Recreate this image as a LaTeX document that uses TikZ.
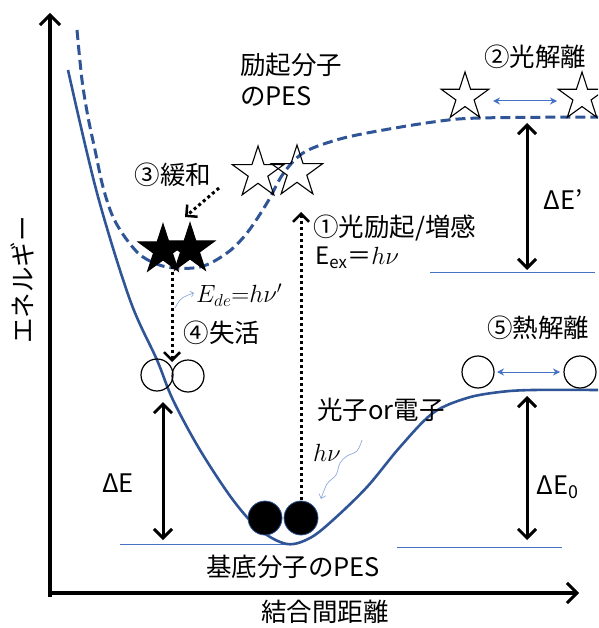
\documentclass[tikz,border=0pt]{standalone}
\usepackage{fontspec}
\setmainfont{Noto Sans CJK JP}
\usetikzlibrary{arrows.meta,shapes.geometric}
\definecolor{pes}{RGB}{47,85,151}
\definecolor{lb}{RGB}{68,114,196}
\definecolor{wv}{RGB}{143,170,220}
\begin{document}
\begin{tikzpicture}[x=1pt,y=-1pt,
  txt/.style={font=\fontsize{25.5}{29}\selectfont, inner sep=0pt},
  mtxt/.style={font=\fontsize{24}{28}\selectfont, inner sep=0pt},
  ostar/.style={star,star points=5,star point ratio=2.618,draw=black,line width=1.1pt,minimum size=54pt,inner sep=0pt},
  bstar/.style={ostar,fill=black,minimum size=52pt},
  wcirc/.style={circle,draw=black,line width=1.2pt,minimum size=32pt,inner sep=0pt},
  bcirc/.style={circle,draw=pes,fill=black,line width=0.8pt,minimum size=34pt,inner sep=0pt},
  axis/.style={line width=3.5pt,-{Straight Barb[length=10pt,width=20pt,line width=3pt]}},
  darr/.style={line width=3pt,{Straight Barb[length=9pt,width=18pt,line width=3pt]}-{Straight Barb[length=9pt,width=18pt,line width=3pt]}},
  dotarr/.style={line width=3pt,dash pattern=on 3pt off 3pt,-{Straight Barb[length=8pt,width=16pt,line width=2.5pt]}},
  barr/.style={lb,line width=1pt,{Stealth[length=7pt,width=7pt]}-{Stealth[length=7pt,width=7pt]}},
  thinb/.style={lb,line width=0.8pt},
  pesline/.style={pes,line width=2.6pt}
]
\useasboundingbox (0,0) rectangle (598,628);
\clip (0,0) rectangle (598,628);
% axes
\coordinate (yb) at (50,597);
\coordinate (yt) at (50,13);
\coordinate (xl) at (48,593);
\coordinate (xr) at (579,593);
\draw[axis] (yb) -- (yt);
\draw[axis] (xl) -- (xr);
% base lines
\coordinate (b1l) at (430,272); \coordinate (b1r) at (595,272);
\coordinate (b2l) at (120,544); \coordinate (b2r) at (285,544);
\coordinate (b3l) at (397,547); \coordinate (b3r) at (562,547);
\draw[thinb] (b1l) -- (b1r);
\draw[thinb] (b2l) -- (b2r);
\draw[thinb] (b3l) -- (b3r);
% ground PES
\draw[pesline] plot[smooth,tension=0.55] coordinates {(68,70) (97,193) (130,300) (157,360) (173,400) (200,450) (233,500) (260,530) (287,544) (310,538) (333,520) (367,487) (400,447) (433,413) (467,398) (500,392) (533,390) (600,390)};
% excited PES
\draw[pesline,line width=3pt,dash pattern=on 10pt off 5pt] plot[smooth,tension=0.55] coordinates {(77,30) (82,80) (88,117) (95,150) (103,187) (113,217) (127,240) (143,257) (167,267) (200,267) (227,253) (247,233) (267,203) (283,174) (303,153) (333,141) (367,133) (433,122) (480,118) (600,117)};
% stars
\node[ostar] (os1) at (258,173) {};
\node[ostar] (os2) at (297,172) {};
\node[ostar,minimum size=50pt] (os3) at (465,97) {};
\node[ostar,minimum size=50pt] (os4) at (582,97) {};
\node[bstar] (bs1) at (163,250) {};
\node[bstar] (bs2) at (190,249) {};
% circles
\node[wcirc] (wc1) at (157,375) {};
\node[wcirc] (wc2) at (188,376) {};
\node[wcirc] (wc3) at (478,372) {};
\node[wcirc] (wc4) at (580,372) {};
\node[bcirc] (bc1) at (265,518) {};
\node[bcirc] (bc2) at (301,518) {};
% double arrows
\coordinate (dEt) at (163,402); \coordinate (dEb) at (163,540);
\coordinate (dEpt) at (527,123); \coordinate (dEpb) at (527,270);
\coordinate (dE0t) at (527,396); \coordinate (dE0b) at (527,540);
\draw[darr] (dEt) -- (dEb);
\draw[darr] (dEpt) -- (dEpb);
\draw[darr] (dE0t) -- (dE0b);
% blue double arrows
\coordinate (ba1l) at (493,101); \coordinate (ba1r) at (557,101);
\coordinate (ba2l) at (497,372); \coordinate (ba2r) at (560,372);
\draw[barr] (ba1l) -- (ba1r);
\draw[barr] (ba2l) -- (ba2r);
% dotted arrows
\coordinate (rs) at (219,188); \coordinate (re) at (185,217);
\draw[dotarr] (rs) -- (re);
\coordinate (ds) at (172,266); \coordinate (de) at (172,362);
\draw[dotarr] (ds) -- (de);
\coordinate (es) at (301,500); \coordinate (ee) at (301,212);
\draw[dotarr] (es) -- (ee);
% wavy arrows
\draw[wv,line width=0.7pt,-{Straight Barb[length=4pt,width=7pt]}] plot[smooth,tension=0.6] coordinates {(362,440) (357,451) (347,456) (340,463) (336,475) (327,484) (321,499)};
\draw[wv,line width=0.7pt,-{Straight Barb[length=3pt,width=6pt]}] plot[smooth,tension=0.6] coordinates {(175,308) (180,300) (186,296) (194,293)};
% texts
\node[txt,rotate=90] (ylab) at (22,280) {エネルギー};
\node[txt] (xlab) at (325,612) {結合間距離};
\node[txt,anchor=west] (ex1) at (240,65) {励起分子};
\node[txt,anchor=west] (ex2) at (240,96) {のPES};
\node[txt] (l2) at (535,57) {②光解離};
\node[txt] (l3) at (173,175) {③緩和};
\node[txt,anchor=west] (l1) at (313,228) {①光励起/増感};
\node[mtxt,anchor=west] (eex) at (315,258) {E\textsubscript{ex}＝$h\nu$};
\node[mtxt,anchor=west] (ede) at (196,295) {$E_{de}{=}h\nu'$};
\node[txt] (l4) at (222,333) {④失活};
\node[txt] (l5) at (538,328) {⑤熱解離};
\node[txt,anchor=west] (ph) at (317,410) {光子or電子};
\node[mtxt,anchor=west] (hv) at (313,453) {$h\nu$};
\node[txt] (dE) at (118,483) {ΔE};
\node[txt] (dEp) at (563,200) {ΔE’};
\node[txt] (dE0) at (558,487) {ΔE\textsubscript{0}};
\node[txt] (gs) at (293,567) {基底分子のPES};
\end{tikzpicture}
\end{document}
